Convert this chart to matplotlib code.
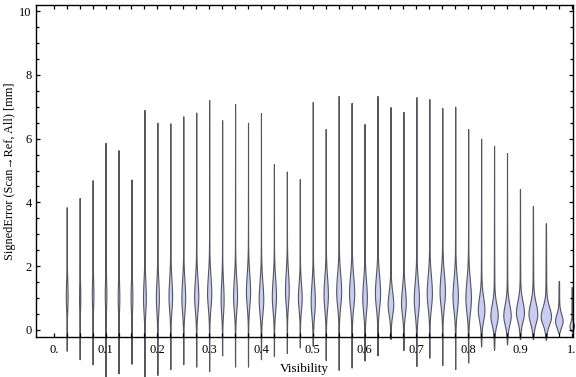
import numpy as np
import matplotlib
matplotlib.use("Agg")
import matplotlib.pyplot as plt
from matplotlib.ticker import MultipleLocator, FixedLocator

# ---- data (one violin per visibility bin) ----
visibility = [0.025 * k for k in range(1, 41)]
max_err = [3.85, 4.14, 4.70, 5.87, 5.64, 4.72, 6.90, 6.50, 6.48, 6.70,
           6.82, 7.21, 6.58, 7.08, 6.50, 6.80, 5.20, 4.97, 4.73, 7.15,
           6.30, 7.34, 7.12, 6.46, 7.34, 6.99, 6.84, 7.30, 7.24, 6.96,
           7.00, 6.30, 6.00, 5.77, 5.55, 4.42, 3.89, 3.35, 1.54, 1.35]
min_err = [-0.65, -0.92, -1.08, -1.46, -1.36, -1.06, -1.46, -1.41, -1.23, -1.07,
           -1.15, -1.29, -0.80, -1.15, -1.15, -0.92, -0.82, -0.72, -0.55, -0.50,
           -0.94, -1.25, -1.18, -0.96, -0.80, -0.28, -0.63, -1.13, -0.87, -1.10,
           -1.23, -1.02, -0.52, -0.63, -0.45, -0.29, -0.29, -0.31, -0.10, -0.05]
mode_err = [1.05, 1.00, 1.10, 1.10, 1.00, 1.00, 1.00, 1.00, 1.05, 1.00,
            1.05, 1.15, 0.95, 1.05, 1.20, 0.95, 1.05, 1.25, 1.00, 0.90,
            1.10, 1.20, 1.15, 1.00, 1.15, 0.80, 0.85, 0.95, 1.15, 1.20,
            1.05, 1.00, 0.63, 0.45, 0.45, 0.55, 0.50, 0.42, 0.28, 0.12]
peak_density = [0.9, 0.6, 0.8, 0.8, 0.8, 0.9, 1.4, 1.5, 1.8, 1.9,
                2.1, 2.1, 1.5, 2.0, 2.1, 2.3, 2.1, 1.9, 1.9, 2.1,
                2.2, 2.5, 2.6, 2.3, 2.6, 2.8, 2.4, 2.6, 2.6, 2.7,
                2.7, 2.8, 3.3, 3.7, 3.7, 4.0, 4.4, 5.2, 3.8, 2.3]
spread = [0.50, 0.50, 0.50, 0.50, 0.50, 0.50, 0.55, 0.55, 0.55, 0.55,
          0.55, 0.55, 0.55, 0.55, 0.55, 0.55, 0.55, 0.55, 0.45, 0.55,
          0.55, 0.55, 0.55, 0.55, 0.55, 0.40, 0.45, 0.55, 0.55, 0.55,
          0.55, 0.55, 0.40, 0.35, 0.35, 0.35, 0.35, 0.30, 0.22, 0.12]

x_tick_vals = [0.0, 0.1, 0.2, 0.3, 0.4, 0.5, 0.6, 0.7, 0.8, 0.9, 1.0]
x_tick_labels = ["0.", "0.1", "0.2", "0.3", "0.4", "0.5", "0.6", "0.7", "0.8", "0.9", "1."]
y_tick_vals = [0, 2, 4, 6, 8, 10]
y_tick_labels = ["0", "2", "4", "6", "8", "10"]

FONT = ["Liberation Serif", "DejaVu Serif"]
plt.rcParams["font.family"] = FONT

fig = plt.figure(figsize=(5.76, 3.77), dpi=100)
ax = fig.add_axes([36 / 576, 1 - 337 / 377, 537 / 576, (337 - 4.7) / 377])

xmin, xmax = -0.0343, 1.0024
ax.set_xlim(xmin, xmax)
ax.set_ylim(-0.22, 10.2)

px_per_unit = 537 / (xmax - xmin)
fill_c = "#c9cdf3"
edge_c = "#55555e"

for xv, top, bot, c, pk, s in zip(visibility, max_err, min_err, mode_err, peak_density, spread):
    y = np.linspace(bot, top, 600)
    s_lo = s * 0.8
    bump = np.where(y >= c, np.exp(-0.5 * ((y - c) / s) ** 2),
                    np.exp(-0.5 * ((y - c) / s_lo) ** 2))
    tail = 0.13 * np.exp(-np.abs(y - c) / 2.0)
    d = 0.87 * bump + tail
    rng = top - bot
    d *= np.clip((top - y) / (0.03 * rng), 0, 1) ** 0.5
    d *= np.clip((y - bot) / (0.03 * rng), 0, 1) ** 0.5
    w = pk * d / px_per_unit
    ax.fill_betweenx(y, xv - w, xv + w, facecolor=fill_c, edgecolor=edge_c,
                     linewidth=0.8, clip_on=False, zorder=1)

for sp in ax.spines.values():
    sp.set_linewidth(1.0)
    sp.set_color("black")
    sp.set_zorder(3)

ax.xaxis.set_major_locator(FixedLocator(x_tick_vals))
ax.set_xticklabels(x_tick_labels)
ax.xaxis.set_minor_locator(FixedLocator(visibility))
ax.yaxis.set_major_locator(FixedLocator(y_tick_vals))
ax.set_yticklabels(y_tick_labels)
ax.yaxis.set_minor_locator(MultipleLocator(0.5))

ax.tick_params(axis="both", which="both", direction="in", top=True, right=True,
               labelsize=9, colors="black", width=0.9, pad=3)
ax.tick_params(axis="x", which="both", pad=5)
ax.tick_params(axis="y", which="major", length=3.2)
ax.tick_params(axis="y", which="minor", length=2.0)
ax.tick_params(axis="x", which="both", length=2.6)

ax.set_xlabel("Visibility", fontsize=9.5, labelpad=5)
ax.set_ylabel("SignedError (Scan\u2192Ref, All) [mm]", fontsize=8.8, labelpad=2.5)

fig.savefig("out.png", dpi=100)
